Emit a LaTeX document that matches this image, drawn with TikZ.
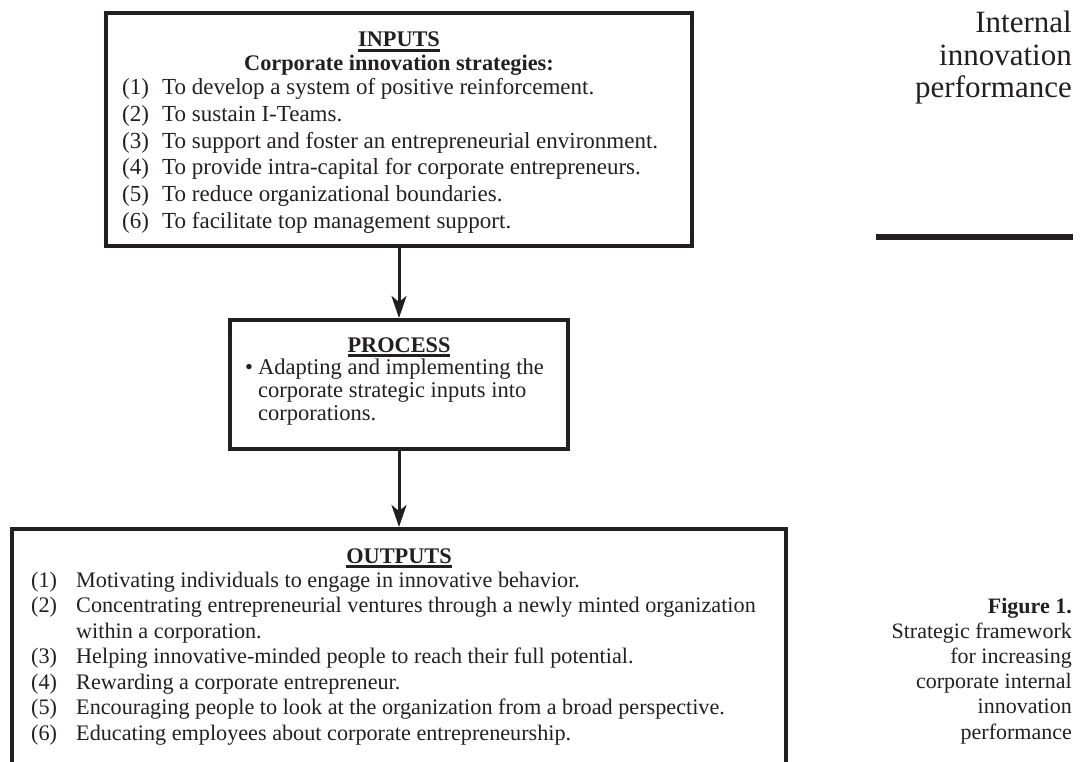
\documentclass[tikz,border=0pt]{standalone}
\usepackage{fontspec}
\setmainfont{Liberation Serif}
\usetikzlibrary{arrows.meta}
\definecolor{ink}{RGB}{35,31,32}
\newcommand\hdrul[1]{\setbox0\hbox{\bfseries #1}\rlap{\vrule width\wd0 height -2.4pt depth 4.6pt}\box0}
\begin{document}
\begin{tikzpicture}[x=1pt,y=-1pt,
  box/.style={draw=ink, line width=4pt, inner sep=0pt},
  arr/.style={draw=ink, line width=3pt, -{Stealth[length=22pt,width=15pt,inset=6pt]}},
  body/.style={inner sep=0pt, text=ink, font=\fontsize{23}{26}\selectfont},
  obody/.style={inner sep=0pt, text=ink, font=\fontsize{22.2}{26}\selectfont},
  pbody/.style={inner sep=0pt, text=ink, font=\fontsize{22.5}{26}\selectfont},
  num/.style={body, anchor=base west},
  itm/.style={body, anchor=base west},
  onum/.style={obody, anchor=base west},
  pitm/.style={pbody, anchor=base west},
  hd/.style={inner sep=0pt, text=ink, anchor=base, font=\fontsize{22.3}{26}\selectfont\bfseries},
  side/.style={inner sep=0pt, text=ink, anchor=base east, font=\fontsize{31}{32}\selectfont},
  captxt/.style={inner sep=0pt, text=ink, anchor=base east, font=\fontsize{22}{25}\selectfont}]
\clip (0,0) rectangle (1086,762);
% boxes
\node[box, minimum width=586pt, minimum height=233pt] (inputs) at (399,129.5) {};
\node[box, minimum width=338pt, minimum height=129pt] (process) at (399,384.5) {};
\node[box, minimum width=774pt, minimum height=300pt] (outputs) at (399,679) {};
% connectors
\draw[arr] (inputs) -- (process);
\draw[arr] (process) -- (outputs);
% inputs text
\node[hd] (inh) at (399,47) {\hdrul{INPUTS}};
\node[hd] (insub) at (399,71) {Corporate innovation strategies:};
\foreach \t [count=\i] in {To develop a system of positive reinforcement.,
  To sustain I-Teams.,
  To support and foster an entrepreneurial environment.,
  To provide intra-capital for corporate entrepreneurs.,
  To reduce organizational boundaries.,
  To facilitate top management support.}{
  \node[num] (in\i n) at (122,{95+26.6*(\i-1)}) {(\i)};
  \node[itm] (in\i t) at (162,{95+26.6*(\i-1)}) {\t};
}
% process text
\node[hd] (prh) at (399,352) {\hdrul{PROCESS}};
\node[pitm] (prb) at (245,374) {\textbullet};
\node[pitm] (pr1) at (258,374) {Adapting and implementing the};
\node[pitm] (pr2) at (258,397) {corporate strategic inputs into};
\node[pitm] (pr3) at (258,420) {corporations.};
% outputs text
\node[hd] (outh) at (399,563) {\hdrul{OUTPUTS}};
\node[onum] (o1n) at (31,587) {(1)};
\node[onum] (o1t) at (76,587) {Motivating individuals to engage in innovative behavior.};
\node[onum] (o2n) at (31,612.5) {(2)};
\node[onum] (o2t) at (76,612.5) {Concentrating entrepreneurial ventures through a newly minted organization};
\node[onum] (o2u) at (76,638) {within a corporation.};
\node[onum] (o3n) at (31,663.5) {(3)};
\node[onum] (o3t) at (76,663.5) {Helping innovative-minded people to reach their full potential.};
\node[onum] (o4n) at (31,689) {(4)};
\node[onum] (o4t) at (76,689) {Rewarding a corporate entrepreneur.};
\node[onum] (o5n) at (31,714.5) {(5)};
\node[onum] (o5t) at (76,714.5) {Encouraging people to look at the organization from a broad perspective.};
\node[onum] (o6n) at (31,740) {(6)};
\node[onum] (o6t) at (76,740) {Educating employees about corporate entrepreneurship.};
% side title
\node[side] (s1) at (1072,33) {Internal};
\node[side] (s2) at (1072,66) {innovation};
\node[side] (s3) at (1072,98) {performance};
\coordinate (rl) at (876,237);
\coordinate (rr) at (1073,237);
\draw[ink, line width=6pt] (rl) -- (rr);
% caption
\node[captxt] (c0) at (1072,613) {\bfseries Figure 1.};
\node[captxt] (c1) at (1072,638) {Strategic framework};
\node[captxt] (c2) at (1072,663) {for increasing};
\node[captxt] (c3) at (1072,688) {corporate internal};
\node[captxt] (c4) at (1072,713) {innovation};
\node[captxt] (c5) at (1072,739) {performance};
\end{tikzpicture}
\end{document}
